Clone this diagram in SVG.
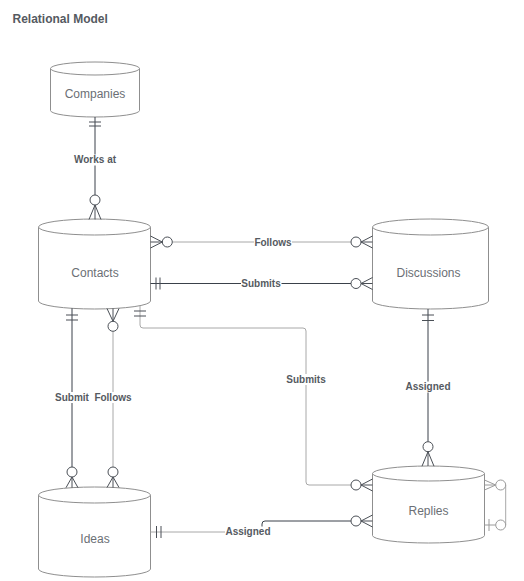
<svg xmlns="http://www.w3.org/2000/svg" width="524" height="581" viewBox="0 0 524 581">
<style>
.bg{fill:#ffffff}
.node{fill:#ffffff;stroke:#8f8f8f;stroke-width:1}
.ntext{font-family:"Liberation Sans",Arial,sans-serif;font-size:12px;fill:#6b6f75;text-anchor:middle}
.title{font-family:"Liberation Sans",Arial,sans-serif;font-size:12px;font-weight:bold;fill:#555a61}
.lbl{font-family:"Liberation Sans",Arial,sans-serif;font-size:10px;font-weight:bold;fill:#555a61;text-anchor:middle}
.dk{fill:none;stroke:#3a414a;stroke-width:1}
.gr{fill:none;stroke:#a8a8a8;stroke-width:1}
.mk{fill:none;stroke:#4a4f56;stroke-width:1}
.mkc{fill:#ffffff;stroke:#4a4f56;stroke-width:1}
.mkg{fill:none;stroke:#9a9a9a;stroke-width:1}
.mkgc{fill:#ffffff;stroke:#9a9a9a;stroke-width:1}
.lbg{fill:#ffffff}
</style>
<rect class="bg" x="0" y="0" width="524" height="581"/>
<text class="title" x="12.5" y="23">Relational Model</text>

<g id="companies">
<path class="node" d="M50.5,68.5 L50.5,110.5 A44.5,6.5 0 0 0 139.5,110.5 L139.5,68.5"/>
<ellipse class="node" cx="95" cy="68.5" rx="44.5" ry="6.5"/>
<text class="ntext" x="95" y="98">Companies</text>
</g>

<g id="contacts">
<path class="node" d="M38.5,227 L38.5,301 A56,8 0 0 0 150.5,301 L150.5,227"/>
<ellipse class="node" cx="94.5" cy="227" rx="56" ry="8"/>
<text class="ntext" x="95" y="276.5">Contacts</text>
</g>

<g id="discussions">
<path class="node" d="M372.5,227 L372.5,301 A58,8 0 0 0 488.5,301 L488.5,227"/>
<ellipse class="node" cx="430.5" cy="227" rx="58" ry="8"/>
<text class="ntext" x="428.5" y="276.5">Discussions</text>
</g>

<g id="replies">
<path class="node" d="M372.5,473.5 L372.5,535.5 A56,7.5 0 0 0 484.5,535.5 L484.5,473.5"/>
<ellipse class="node" cx="428.5" cy="473.5" rx="56" ry="7.5"/>
<text class="ntext" x="428.5" y="515">Replies</text>
</g>

<g id="ideas">
<path class="node" d="M38.5,495 L38.5,569 A56,8 0 0 0 150.5,569 L150.5,495"/>
<ellipse class="node" cx="94.5" cy="495" rx="56" ry="8"/>
<text class="ntext" x="95" y="543">Ideas</text>
</g>

<g id="connectors">
<!-- Companies - Contacts : Works at -->
<path class="dk" d="M95,117 V195"/>
<path class="mk" d="M89,122 H101 M89,126 H101"/>
<circle class="mkc" cx="95" cy="200" r="5"/>
<path class="mk" d="M89,219.5 L95,205 L101,219.5 M95,205 V219.5"/>
<rect class="lbg" x="73" y="154.5" width="44" height="11"/>
<text class="lbl" x="95" y="163">Works at</text>

<!-- Contacts - Discussions : Follows -->
<path class="gr" d="M172.3,242 H351"/>
<circle class="mkc" cx="167.3" cy="242" r="5"/>
<path class="mk" d="M150.5,236 L162.3,242 L150.5,248 M150.5,242 H162.3"/>
<circle class="mkc" cx="356" cy="242" r="5"/>
<path class="mk" d="M372.5,236 L361,242 L372.5,248 M372.5,242 H361"/>
<rect class="lbg" x="254" y="237" width="38" height="10"/>
<text class="lbl" x="273" y="245.5">Follows</text>

<!-- Contacts - Discussions : Submits -->
<path class="dk" d="M150.5,283.5 H351"/>
<path class="mk" d="M156,277.5 V289.5 M160,277.5 V289.5"/>
<circle class="mkc" cx="356" cy="283.5" r="5"/>
<path class="mk" d="M372.5,277.5 L361,283.5 L372.5,289.5 M372.5,283.5 H361"/>
<rect class="lbg" x="241" y="278.5" width="40.5" height="10"/>
<text class="lbl" x="261" y="287">Submits</text>

<!-- Contacts - Ideas : Submit -->
<path class="dk" d="M72,308.3 V467"/>
<path class="mk" d="M66,315 H78 M66,320 H78"/>
<circle class="mkc" cx="72" cy="472" r="5"/>
<path class="mk" d="M66,487.7 L72,477 L78,487.7 M72,477 V487.7"/>
<rect class="lbg" x="55" y="392" width="35" height="11"/>
<text class="lbl" x="72" y="401">Submit</text>

<!-- Contacts - Ideas : Follows -->
<path class="gr" d="M113,331.3 V467"/>
<path class="mk" d="M107,308.5 L113,321.3 L119,308.5 M113,308.5 V321.3"/>
<circle class="mkc" cx="113" cy="326.3" r="5"/>
<circle class="mkc" cx="113" cy="472" r="5"/>
<path class="mk" d="M107,487.5 L113,477 L119,487.5 M113,477 V487.5"/>
<rect class="lbg" x="94" y="392" width="38" height="11"/>
<text class="lbl" x="113" y="401">Follows</text>

<!-- Contacts - Replies : Submits -->
<path class="gr" d="M140,305.7 V325 Q140,328 143,328 H303 Q306,328 306,331 V482 Q306,485 309,485 H351"/>
<path class="mk" d="M134,311 H146 M134,316 H146"/>
<circle class="mkc" cx="356" cy="485" r="5"/>
<path class="mk" d="M372.5,479 L361,485 L372.5,491 M372.5,485 H361"/>
<rect class="lbg" x="286" y="374" width="40.5" height="11"/>
<text class="lbl" x="306" y="382.5">Submits</text>

<!-- Discussions - Replies : Assigned -->
<path class="dk" d="M428,309 V441.7"/>
<path class="mk" d="M422,315 H434 M422,320.5 H434"/>
<circle class="mkc" cx="428" cy="446.7" r="5"/>
<path class="mk" d="M422,466.2 L428,451.7 L434,466.2 M428,451.7 V466"/>
<rect class="lbg" x="405" y="381.5" width="46" height="11"/>
<text class="lbl" x="428" y="390">Assigned</text>

<!-- Ideas - Replies : Assigned -->
<path class="gr" d="M150.5,532 H262"/>
<path class="dk" d="M262,532 V524 Q262,521 265,521 H351"/>
<path class="mk" d="M156.5,526 V538 M161,526 V538"/>
<circle class="mkc" cx="356" cy="521" r="5"/>
<path class="mk" d="M372.5,515 L361,521 L372.5,527 M372.5,521 H361"/>
<rect class="lbg" x="225" y="526.5" width="46" height="10"/>
<text class="lbl" x="248" y="535">Assigned</text>

<!-- Replies self loop -->
<path class="gr" d="M505.7,485 V525"/>
<path class="mkg" d="M484.5,480 L495.7,485 L484.5,490 M484.5,485 H495.7"/>
<circle class="mkgc" cx="500.7" cy="485" r="5"/>
<path class="mkg" d="M484.5,525 H495.7 M489,519 V531"/>
<circle class="mkgc" cx="500.7" cy="525" r="5"/>
</g>
</svg>
